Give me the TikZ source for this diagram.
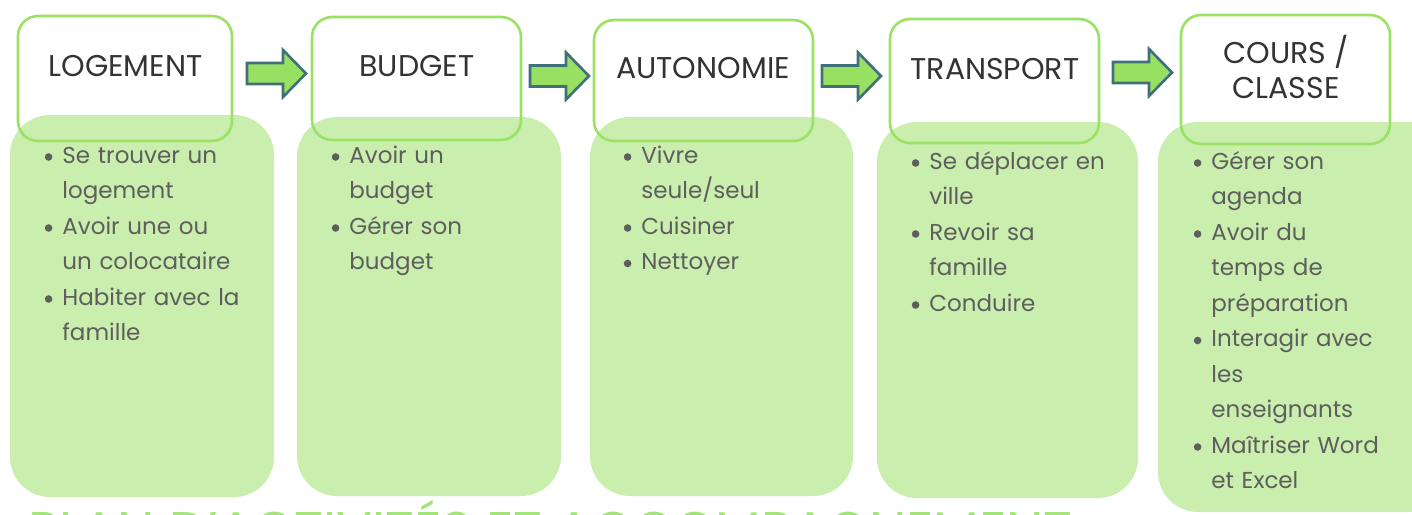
\documentclass[tikz,border=0pt]{standalone}
\usepackage{fontspec}
\setmainfont{Poppins}
\usetikzlibrary{positioning}

\definecolor{panelgreen}{HTML}{C9EEAD}
\definecolor{framegreen}{HTML}{9BE164}
\definecolor{arrowgreen}{HTML}{98E061}
\definecolor{arrowedge}{HTML}{41707A}
\definecolor{itemgray}{HTML}{5E5E5E}
\definecolor{plangreen}{HTML}{A3E377}

\tikzset{
  panel/.style={fill=panelgreen, rounded corners=20pt},
  titlebox/.style={draw=framegreen, line width=1.3pt, rounded corners=10pt, inner sep=0pt},
  titletext/.style={font=\fontsize{15}{17.5}\selectfont, text=black!80, align=center, inner sep=0pt},
  itemlist/.style={font=\fontsize{11.5}{17.75}\selectfont, text=itemgray, text width=140pt, align=left, inner sep=0pt, anchor=base west},
  blockarrow/.style={fill=arrowgreen, draw=arrowedge, line width=1.3pt, line join=miter}
}
\newcommand\itm{\leavevmode\llap{\tikz[baseline=0pt]\fill[itemgray] (0,3pt) circle (1.9pt);\hspace{5pt}}}

\begin{document}
\begin{tikzpicture}[x=0.5pt, y=-0.5pt]
	\useasboundingbox (0,0) rectangle (1412,514);
	\clip (0,0) rectangle (1412,514);
	% panels
	\fill[panel] (10,115) rectangle (274,497);
	\fill[panel] (297,117) rectangle (561,496);
	\fill[panel] (590,117) rectangle (853,496);
	\fill[panel] (877,122) rectangle (1138,498);
	\fill[panel] (1158,122) rectangle (1450,512);
	% title boxes
	\node[titlebox, minimum width=107pt, minimum height=62.5pt] (logement) at (125,78.5) {};
	\node[titlebox, minimum width=104.5pt, minimum height=61.5pt] (budget) at (416.5,78.5) {};
	\node[titlebox, minimum width=109.5pt, minimum height=60.5pt] (autonomie) at (703.5,80.5) {};
	\node[titlebox, minimum width=104.5pt, minimum height=62pt] (transport) at (994.5,81) {};
	\node[titlebox, minimum width=104.5pt, minimum height=64.5pt] (cours) at (1285.5,79.5) {};
	\node[titletext] (logementlbl) at (125.5,66) {LOGEMENT};
	\node[titletext] (budgetlbl) at (417,66) {BUDGET};
	\node[titletext] (autonomielbl) at (703,68) {AUTONOMIE};
	\node[titletext] (transportlbl) at (995,69) {TRANSPORT};
	\node[titletext] (courslbl) at (1286,66.5) {COURS /\\CLASSE};
	% arrows
	\foreach \ax/\ay in {247/73.5, 530/76, 822/76, 1113/72.5}
		\draw[blockarrow] (\ax,\ay-10.5) -- ++(36,0) -- ++(0,-13) -- (\ax+59,\ay)
		-- (\ax+36,\ay+23.5) -- ++(0,-13) -- (\ax,\ay+10.5) -- cycle;
	% lists
	\node[itemlist] (logementlist) at (62,163) {\itm Se trouver un\\logement\\\itm Avoir une ou\\un colocataire\\\itm Habiter avec la\\famille};
	\node[itemlist] (budgetlist) at (349,163) {\itm Avoir un\\budget\\\itm Gérer son\\budget};
	\node[itemlist] (autonomielist) at (641,163) {\itm Vivre\\seule/seul\\\itm Cuisiner\\\itm Nettoyer};
	\node[itemlist] (transportlist) at (929,169) {\itm Se déplacer en\\ville\\\itm Revoir sa\\famille\\\itm Conduire};
	\node[itemlist] (courslist) at (1211,169) {\itm Gérer son\\agenda\\\itm Avoir du\\temps de\\préparation\\\itm Interagir avec\\les\\enseignants\\\itm Maîtriser Word\\et Excel};
	% title at the bottom, cut by the page edge
	\node[font=\fontsize{26.5}{30}\selectfont, text=plangreen, anchor=base west, inner sep=0pt] (plan) at (28,549) {PLAN D’ACTIVITÉS ET ACCOMPAGNEMENT};
\end{tikzpicture}
\end{document}
